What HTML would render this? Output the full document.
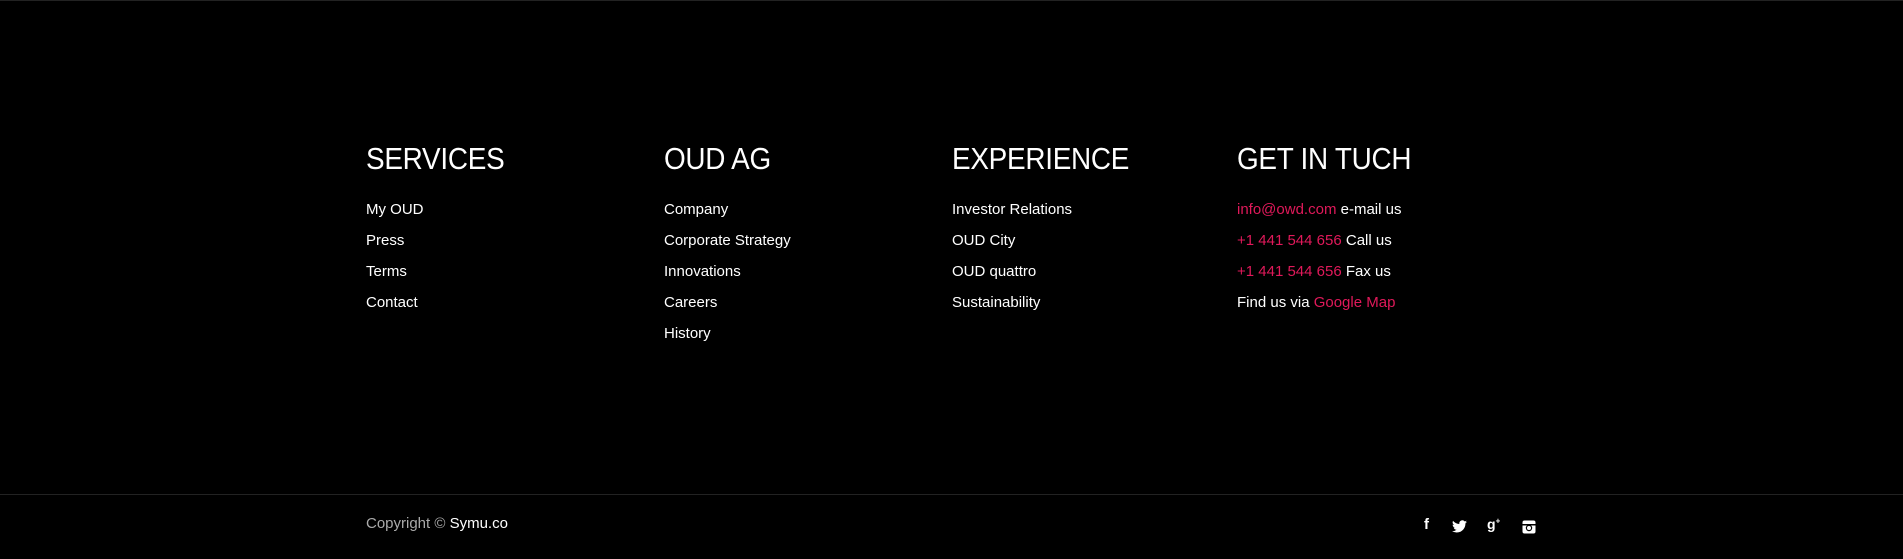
<!DOCTYPE html>
<html><head><meta charset="utf-8"><style>
html,body{margin:0;padding:0;background:#000;width:1903px;height:559px;overflow:hidden;font-family:"Liberation Sans",sans-serif;color:#fff}
.top{position:absolute;left:0;top:0;width:1903px;height:1px;background:#222}
.col{position:absolute;top:139px}
h2{margin:0;font-weight:normal;font-size:31px;line-height:40px;letter-spacing:-0.3px;white-space:nowrap;transform:scaleX(0.9);transform-origin:left}
ul{list-style:none;margin:0;padding:0;position:absolute;top:55px;white-space:nowrap}
li{font-size:15px;line-height:31px}
.r{color:#e0195a}
.bar{position:absolute;left:0;top:494px;width:1903px;height:1px;background:#222}
.copy{position:absolute;left:366px;top:515px;font-size:15px;color:#aaa}
.copy b{font-weight:normal;color:#fff}
.ic{position:absolute;top:516px;font-size:15px;font-weight:bold;color:#fff}
</style></head><body>
<div class="top"></div>
<div class="col" style="left:366px"><h2>SERVICES</h2><ul><li>My OUD</li><li>Press</li><li>Terms</li><li>Contact</li></ul></div>
<div class="col" style="left:664px"><h2>OUD AG</h2><ul><li>Company</li><li>Corporate Strategy</li><li>Innovations</li><li>Careers</li><li>History</li></ul></div>
<div class="col" style="left:952px"><h2>EXPERIENCE</h2><ul><li>Investor Relations</li><li>OUD City</li><li>OUD quattro</li><li>Sustainability</li></ul></div>
<div class="col" style="left:1237px"><h2>GET IN TUCH</h2><ul><li><span class="r">info@owd.com</span> e-mail us</li><li><span class="r">+1 441 544 656</span> Call us</li><li><span class="r">+1 441 544 656</span> Fax us</li><li>Find us via <span class="r">Google Map</span></li></ul></div>
<div class="bar"></div>
<div class="copy">Copyright © <b>Symu.co</b></div>
<div class="ic" style="left:1424px">f</div>
<svg style="position:absolute;left:1452px;top:520px" width="15" height="13" viewBox="0 0 24 20"><path fill="#fff" d="M24 2.4a10 10 0 0 1-2.8.8A5 5 0 0 0 23.3.5a10 10 0 0 1-3.1 1.2A4.9 4.9 0 0 0 11.8 6 14 14 0 0 1 1.7.9a4.9 4.9 0 0 0 1.5 6.6A4.9 4.9 0 0 1 1 6.9a4.9 4.9 0 0 0 3.9 4.8 5 5 0 0 1-2.2.1 4.9 4.9 0 0 0 4.6 3.4A9.900 9.9 0 0 1 0 17.3 14 14 0 0 0 7.5 19.5c9.1 0 14-7.5 14-14v-.6A10 10 0 0 0 24 2.4z"/></svg>
<div class="ic" style="left:1487px;font-size:14px">g<sup style="font-size:8px">+</sup></div>
<svg style="position:absolute;left:1522px;top:520px" width="14" height="14" viewBox="0 0 14 14"><rect x="0.5" y="0.5" width="13" height="13" rx="2" fill="#fff"/><rect x="0.5" y="4" width="13" height="1.5" fill="#000"/><circle cx="7" cy="8" r="3.2" fill="#000"/><circle cx="7" cy="8" r="2" fill="#fff"/></svg>
</body></html>
